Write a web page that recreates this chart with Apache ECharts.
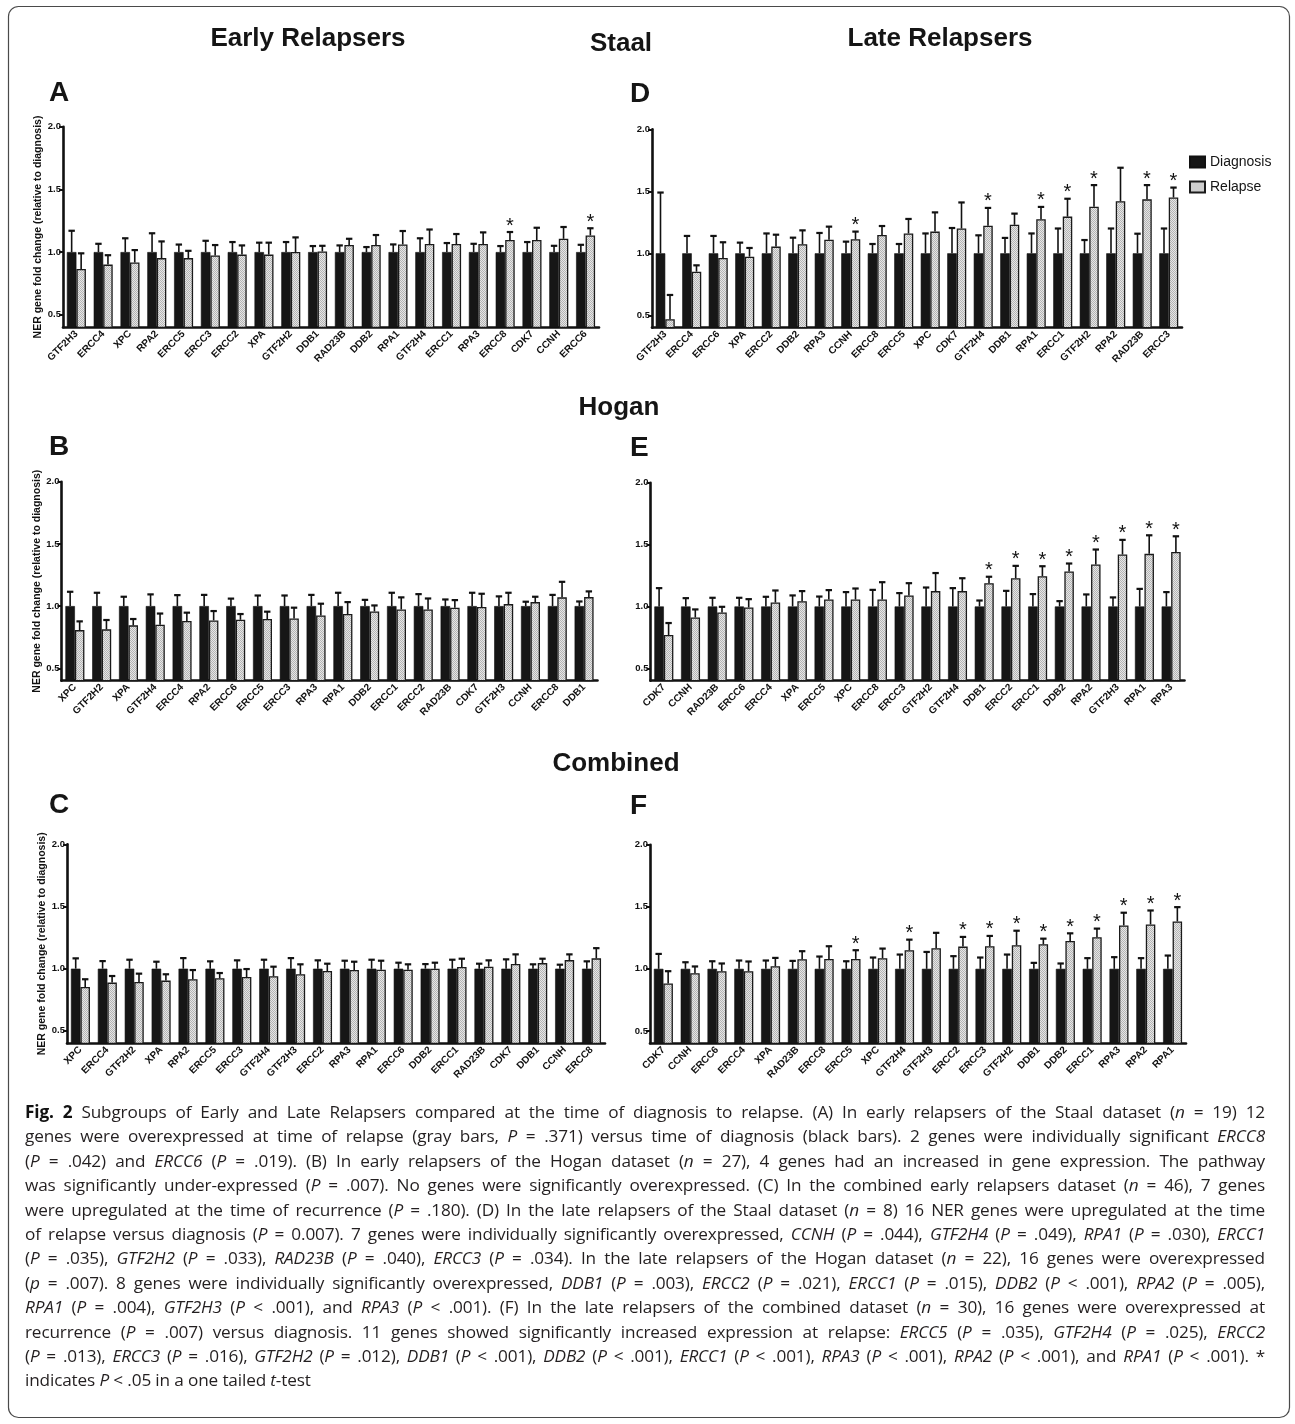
<!DOCTYPE html>
<html><head><meta charset="utf-8">
<script src="https://cdn.jsdelivr.net/npm/echarts@6/dist/echarts.min.js"></script>
<style>
html,body{margin:0;padding:0;background:#fff;}
#wrap{position:relative;width:1295px;height:1424px;overflow:hidden;}
#chart{position:absolute;left:0;top:0;width:1295px;height:1424px;}
#caption{position:absolute;left:25px;top:1100px;width:1240px;font-family:"Open Sans",sans-serif;font-size:17.2px;color:#231f20;letter-spacing:-0.15px;}
.ln{height:24.4px;line-height:24.4px;white-space:nowrap;text-align:justify;text-align-last:justify;}
.ln.last{text-align-last:left;text-align:left;}
.ln i{font-style:italic;}
.ln b{font-weight:700;color:#111;}
</style></head>
<body>
<div id="wrap">
<div id="chart"></div>
<div id="caption">
<div class="ln"><b>Fig. 2</b> Subgroups of Early and Late Relapsers compared at the time of diagnosis to relapse. (A) In early relapsers of the Staal dataset (<i>n</i> = 19) 12</div>
<div class="ln">genes were overexpressed at time of relapse (gray bars, <i>P</i> = .371) versus time of diagnosis (black bars). 2 genes were individually significant <i>ERCC8</i></div>
<div class="ln">(<i>P</i> = .042) and <i>ERCC6</i> (<i>P</i> = .019). (B) In early relapsers of the Hogan dataset (<i>n</i> = 27), 4 genes had an increased in gene expression. The pathway</div>
<div class="ln">was significantly under-expressed (<i>P</i> = .007). No genes were significantly overexpressed. (C) In the combined early relapsers dataset (<i>n</i> = 46), 7 genes</div>
<div class="ln">were upregulated at the time of recurrence (<i>P</i> = .180). (D) In the late relapsers of the Staal dataset (<i>n</i> = 8) 16 NER genes were upregulated at the time</div>
<div class="ln">of relapse versus diagnosis (<i>P</i> = 0.007). 7 genes were individually significantly overexpressed, <i>CCNH</i> (<i>P</i> = .044), <i>GTF2H4</i> (<i>P</i> = .049), <i>RPA1</i> (<i>P</i> = .030), <i>ERCC1</i></div>
<div class="ln">(<i>P</i> = .035), <i>GTF2H2</i> (<i>P</i> = .033), <i>RAD23B</i> (<i>P</i> = .040), <i>ERCC3</i> (<i>P</i> = .034). In the late relapsers of the Hogan dataset (<i>n</i> = 22), 16 genes were overexpressed</div>
<div class="ln">(<i>p</i> = .007). 8 genes were individually significantly overexpressed, <i>DDB1</i> (<i>P</i> = .003), <i>ERCC2</i> (<i>P</i> = .021), <i>ERCC1</i> (<i>P</i> = .015), <i>DDB2</i> (<i>P</i> &lt; .001), <i>RPA2</i> (<i>P</i> = .005),</div>
<div class="ln"><i>RPA1</i> (<i>P</i> = .004), <i>GTF2H3</i> (<i>P</i> &lt; .001), and <i>RPA3</i> (<i>P</i> &lt; .001). (F) In the late relapsers of the combined dataset (<i>n</i> = 30), 16 genes were overexpressed at</div>
<div class="ln">recurrence (<i>P</i> = .007) versus diagnosis. 11 genes showed significantly increased expression at relapse: <i>ERCC5</i> (<i>P</i> = .035), <i>GTF2H4</i> (<i>P</i> = .025), <i>ERCC2</i></div>
<div class="ln">(<i>P</i> = .013), <i>ERCC3</i> (<i>P</i> = .016), <i>GTF2H2</i> (<i>P</i> = .012), <i>DDB1</i> (<i>P</i> &lt; .001), <i>DDB2</i> (<i>P</i> &lt; .001), <i>ERCC1</i> (<i>P</i> &lt; .001), <i>RPA3</i> (<i>P</i> &lt; .001), <i>RPA2</i> (<i>P</i> &lt; .001), and <i>RPA1</i> (<i>P</i> &lt; .001). *</div>
<div class="ln last">indicates <i>P</i> &lt; .05 in a one tailed <i>t</i>-test</div>
</div>
</div>
<script>
// ---------------- DATA ----------------
const seriesNames = ['Diagnosis', 'Relapse'];
const yTickValues = [0.5, 1.0, 1.5, 2.0];

// Panel A: Staal, Early Relapsers
const catsA = ['GTF2H3','ERCC4','XPC','RPA2','ERCC5','ERCC3','ERCC2','XPA','GTF2H2','DDB1','RAD23B','DDB2','RPA1','GTF2H4','ERCC1','RPA3','ERCC8','CDK7','CCNH','ERCC6'];
const diagA = [1.00,1.00,1.00,1.00,1.00,1.00,1.00,1.00,1.00,1.00,1.00,1.00,1.00,1.00,1.00,1.00,1.00,1.00,1.00,1.00];
const diagErrA = [1.17,1.066,1.11,1.15,1.06,1.09,1.08,1.075,1.08,1.048,1.053,1.04,1.061,1.11,1.072,1.066,1.048,1.08,1.05,1.058];
const relA = [0.865,0.90,0.917,0.952,0.952,0.973,0.98,0.98,1.0,1.005,1.056,1.056,1.061,1.064,1.064,1.064,1.096,1.096,1.106,1.133];
const relErrA = [0.99,0.975,1.016,1.085,1.01,1.056,1.053,1.075,1.117,1.05,1.106,1.136,1.168,1.18,1.144,1.157,1.16,1.194,1.2,1.19];
const sigA = ['ERCC8','ERCC6'];

// Panel D: Staal, Late Relapsers
const catsD = ['GTF2H3','ERCC4','ERCC6','XPA','ERCC2','DDB2','RPA3','CCNH','ERCC8','ERCC5','XPC','CDK7','GTF2H4','DDB1','RPA1','ERCC1','GTF2H2','RPA2','RAD23B','ERCC3'];
const diagD = [1.00,1.00,1.00,1.00,1.00,1.00,1.00,1.00,1.00,1.00,1.00,1.00,1.00,1.00,1.00,1.00,1.00,1.00,1.00,1.00];
const diagErrD = [1.49,1.14,1.14,1.086,1.16,1.126,1.164,1.094,1.075,1.075,1.16,1.204,1.145,1.124,1.16,1.2,1.107,1.2,1.158,1.2];
const relD = [0.468,0.852,0.962,0.973,1.054,1.073,1.11,1.113,1.148,1.16,1.175,1.2,1.223,1.23,1.274,1.296,1.376,1.42,1.435,1.45];
const relErrD = [0.664,0.903,1.089,1.043,1.15,1.185,1.215,1.175,1.22,1.277,1.33,1.41,1.366,1.32,1.374,1.44,1.55,1.69,1.55,1.53];
const sigD = ['CCNH','GTF2H4','RPA1','ERCC1','GTF2H2','RAD23B','ERCC3'];

// Panel B: Hogan, Early Relapsers
const catsB = ['XPC','GTF2H2','XPA','GTF2H4','ERCC4','RPA2','ERCC6','ERCC5','ERCC3','RPA3','RPA1','DDB2','ERCC1','ERCC2','RAD23B','CDK7','GTF2H3','CCNH','ERCC8','DDB1'];
const diagB = [1.00,1.00,1.00,1.00,1.00,1.00,1.00,1.00,1.00,1.00,1.00,1.00,1.00,1.00,1.00,1.00,1.00,1.00,1.00,1.00];
const diagErrB = [1.115,1.107,1.075,1.094,1.088,1.09,1.06,1.085,1.085,1.09,1.107,1.05,1.107,1.096,1.053,1.107,1.078,1.035,1.09,1.037];
const relB = [0.807,0.813,0.845,0.85,0.88,0.885,0.89,0.896,0.90,0.925,0.936,0.957,0.973,0.973,0.987,0.992,1.016,1.032,1.07,1.072];
const relErrB = [0.877,0.888,0.896,0.94,0.947,0.96,0.936,0.955,0.987,1.019,1.032,1.005,1.07,1.061,1.048,1.099,1.107,1.075,1.195,1.118];
const sigB = [];

// Panel E: Hogan, Late Relapsers
const catsE = ['CDK7','CCNH','RAD23B','ERCC6','ERCC4','XPA','ERCC5','XPC','ERCC8','ERCC3','GTF2H2','GTF2H4','DDB1','ERCC2','ERCC1','DDB2','RPA2','GTF2H3','RPA1','RPA3'];
const diagE = [1.00,1.00,1.00,1.00,1.00,1.00,1.00,1.00,1.00,1.00,1.00,1.00,1.00,1.00,1.00,1.00,1.00,1.00,1.00,1.00];
const diagErrE = [1.148,1.067,1.07,1.07,1.078,1.089,1.08,1.116,1.134,1.108,1.153,1.148,1.048,1.126,1.1,1.043,1.097,1.073,1.142,1.116];
const relE = [0.769,0.911,0.952,0.992,1.032,1.043,1.056,1.056,1.056,1.089,1.124,1.124,1.188,1.228,1.245,1.282,1.339,1.42,1.425,1.44];
const relErrE = [0.866,0.976,0.997,1.059,1.129,1.124,1.132,1.145,1.196,1.188,1.27,1.228,1.24,1.328,1.325,1.347,1.46,1.538,1.575,1.567];
const sigE = ['DDB1','ERCC2','ERCC1','DDB2','RPA2','GTF2H3','RPA1','RPA3'];

// Panel C: Combined, Early Relapsers
const catsC = ['XPC','ERCC4','GTF2H2','XPA','RPA2','ERCC5','ERCC3','GTF2H4','GTF2H3','ERCC2','RPA3','RPA1','ERCC6','DDB2','ERCC1','RAD23B','CDK7','DDB1','CCNH','ERCC8'];
const diagC = [1.00,1.00,1.00,1.00,1.00,1.00,1.00,1.00,1.00,1.00,1.00,1.00,1.00,1.00,1.00,1.00,1.00,1.00,1.00,1.00];
const diagErrC = [1.083,1.061,1.072,1.056,1.085,1.059,1.067,1.072,1.085,1.067,1.064,1.072,1.048,1.037,1.072,1.04,1.075,1.035,1.032,1.059];
const relC = [0.853,0.888,0.893,0.904,0.915,0.923,0.933,0.939,0.955,0.981,0.989,0.992,0.992,1.0,1.013,1.016,1.037,1.045,1.069,1.083];
const relErrC = [0.915,0.941,0.96,0.955,0.989,0.965,0.997,1.016,1.035,1.04,1.056,1.064,1.035,1.048,1.08,1.067,1.115,1.08,1.115,1.165];
const sigC = [];

// Panel F: Combined, Late Relapsers
const catsF = ['CDK7','CCNH','ERCC6','ERCC4','XPA','RAD23B','ERCC8','ERCC5','XPC','GTF2H4','GTF2H3','ERCC2','ERCC3','GTF2H2','DDB1','DDB2','ERCC1','RPA3','RPA2','RPA1'];
const diagF = [1.00,1.00,1.00,1.00,1.00,1.00,1.00,1.00,1.00,1.00,1.00,1.00,1.00,1.00,1.00,1.00,1.00,1.00,1.00,1.00];
const diagErrF = [1.12,1.053,1.061,1.067,1.067,1.064,1.099,1.061,1.091,1.115,1.136,1.102,1.091,1.115,1.048,1.043,1.086,1.094,1.086,1.107];
const relF = [0.882,0.965,0.981,0.981,1.021,1.078,1.08,1.08,1.086,1.15,1.166,1.179,1.182,1.19,1.198,1.225,1.254,1.35,1.358,1.382];
const relErrF = [0.981,1.019,1.043,1.059,1.088,1.142,1.182,1.15,1.163,1.235,1.29,1.257,1.265,1.307,1.243,1.286,1.324,1.452,1.47,1.497];
const sigF = ['ERCC5','GTF2H4','ERCC2','ERCC3','GTF2H2','DDB1','DDB2','ERCC1','RPA3','RPA2','RPA1'];

const yAxisName = 'NER gene fold change (relative to diagnosis)';
const columnTitles = ['Early Relapsers', 'Late Relapsers'];
const rowTitles = ['Staal', 'Hogan', 'Combined'];
const panelLetters = ['A', 'D', 'B', 'E', 'C', 'F'];

// ---------------- LAYOUT / STYLE ----------------
const FONT = '"Liberation Sans", Arial, Helvetica, sans-serif';
const BW = 9.5;
const panels = [
  {cats: catsA, diag: diagA, dErr: diagErrA, rel: relA, rErr: relErrA, sig: sigA, grid: {left: 63, top: 126.7, width: 536, height: 200.6}, yName: true},
  {cats: catsD, diag: diagD, dErr: diagErrD, rel: relD, rErr: relErrD, sig: sigD, grid: {left: 652, top: 129.3, width: 530, height: 198.4}, yName: false},
  {cats: catsB, diag: diagB, dErr: diagErrB, rel: relB, rErr: relErrB, sig: sigB, grid: {left: 61.5, top: 481.7, width: 536, height: 199}, yName: true},
  {cats: catsE, diag: diagE, dErr: diagErrE, rel: relE, rErr: relErrE, sig: sigE, grid: {left: 650.5, top: 482.7, width: 534, height: 198}, yName: false},
  {cats: catsC, diag: diagC, dErr: diagErrC, rel: relC, rErr: relErrC, sig: sigC, grid: {left: 67, top: 844.3, width: 538, height: 199}, yName: true},
  {cats: catsF, diag: diagF, dErr: diagErrF, rel: relF, rErr: relErrF, sig: sigF, grid: {left: 650, top: 844.7, width: 536, height: 198.6}, yName: false}
];

function makePattern() {
  const c = document.createElement('canvas');
  c.width = 2; c.height = 2;
  const g = c.getContext('2d');
  g.fillStyle = '#e6e6e6'; g.fillRect(0, 0, 2, 2);
  g.fillStyle = '#b4b4b4'; g.fillRect(0, 0, 1, 1); g.fillRect(1, 1, 1, 1);
  return c;
}
const relColor = {image: makePattern(), repeat: 'repeat'};

function renderErr(params, api) {
  const i = api.value(0);
  const children = [];
  const pairs = [[api.value(1), api.value(2), -1], [api.value(3), api.value(4), 1]];
  pairs.forEach(function (p) {
    const a = api.coord([i, p[0]]);
    const b = api.coord([i, p[1]]);
    const x = a[0] + p[2] * BW / 2;
    children.push({type: 'line', shape: {x1: x, y1: a[1], x2: x, y2: b[1]}, style: {stroke: '#111', lineWidth: 1.6}});
    children.push({type: 'line', shape: {x1: x - 3.2, y1: b[1], x2: x + 3.2, y2: b[1]}, style: {stroke: '#111', lineWidth: 2.2}});
  });
  if (api.value(5)) {
    const s = api.coord([i, api.value(4)]);
    children.push({type: 'text', x: s[0] + BW / 2, y: s[1] - 6,
      style: {text: '*', fontSize: 20, fontFamily: FONT, textAlign: 'center', textVerticalAlign: 'middle', fill: '#111'}});
  }
  return {type: 'group', children: children};
}

const grids = [], xAxes = [], yAxes = [], series = [];
panels.forEach(function (p, k) {
  grids.push(Object.assign({}, p.grid));
  xAxes.push({
    type: 'category', gridIndex: k, data: p.cats,
    axisLine: {lineStyle: {color: '#111', width: 2.6}},
    axisTick: {alignWithLabel: true, length: 5, lineStyle: {color: '#111', width: 2}},
    axisLabel: {interval: 0, rotate: 45, fontSize: 10, fontWeight: 'bold', color: '#111', fontFamily: FONT, margin: 5}
  });
  const ya = {
    type: 'value', gridIndex: k, min: 0.4, max: 2.0,
    axisLine: {show: true, lineStyle: {color: '#111', width: 2.6}},
    axisTick: {show: true, customValues: yTickValues, length: 4, lineStyle: {color: '#111', width: 2}},
    axisLabel: {customValues: yTickValues, fontSize: 9.5, fontWeight: 'bold', color: '#111', fontFamily: FONT, margin: 2,
      formatter: function (v) { return Number(v).toFixed(1); }},
    splitLine: {show: false}
  };
  if (p.yName) {
    ya.name = yAxisName;
    ya.nameLocation = 'middle';
    ya.nameGap = 19;
    ya.nameTextStyle = {fontSize: 10.5, fontWeight: 'bold', color: '#111', fontFamily: FONT};
  }
  yAxes.push(ya);
  series.push({
    name: seriesNames[0], type: 'bar', xAxisIndex: k, yAxisIndex: k, data: p.diag,
    barWidth: BW, barGap: '0%', silent: true,
    itemStyle: {color: '#161616', borderColor: '#111', borderWidth: 0.6}
  });
  series.push({
    name: seriesNames[1], type: 'bar', xAxisIndex: k, yAxisIndex: k, data: p.rel,
    barWidth: BW, barGap: '0%', silent: true,
    itemStyle: {color: relColor, borderColor: '#1a1a1a', borderWidth: 1.3}
  });
  series.push({
    type: 'custom', xAxisIndex: k, yAxisIndex: k, silent: true, z: 5,
    renderItem: renderErr,
    data: p.cats.map(function (c, i) {
      return [i, p.diag[i], p.dErr[i], p.rel[i], p.rErr[i], p.sig.indexOf(c) >= 0 ? 1 : 0];
    })
  });
});

function txt(text, x, y, size, align) {
  return {type: 'text', x: x, y: y, silent: true,
    style: {text: text, fontSize: size, fontWeight: 'bold', fontFamily: FONT, fill: '#151515',
      textAlign: align || 'center', textVerticalAlign: 'middle'}};
}

const graphics = [
  {type: 'rect', shape: {x: 8.5, y: 6.5, width: 1281, height: 1411, r: 10}, silent: true,
    style: {fill: 'none', stroke: '#4a4a4a', lineWidth: 1.2}},
  txt(columnTitles[0], 308, 39, 26),
  txt(columnTitles[1], 940, 39, 26),
  txt(rowTitles[0], 621, 44, 26),
  txt(rowTitles[1], 619, 408, 26),
  txt(rowTitles[2], 616, 764, 26),
  txt(panelLetters[0], 49, 93, 28, 'left'),
  txt(panelLetters[1], 630, 94, 28, 'left'),
  txt(panelLetters[2], 49, 447, 28, 'left'),
  txt(panelLetters[3], 630, 448, 28, 'left'),
  txt(panelLetters[4], 49, 805, 28, 'left'),
  txt(panelLetters[5], 630, 806, 28, 'left')
];

const chart = echarts.init(document.getElementById('chart'), null, {renderer: 'canvas'});
chart.setOption({
  animation: false,
  backgroundColor: '#ffffff',
  legend: {
    data: seriesNames, orient: 'vertical', left: 1189, top: 155, itemWidth: 15, itemHeight: 11, itemGap: 11,
    selectedMode: false, icon: 'rect', padding: 0,
    textStyle: {fontSize: 14, color: '#151515', fontFamily: FONT}
  },
  grid: grids, xAxis: xAxes, yAxis: yAxes, series: series, graphic: graphics
});
</script>
</body></html>
